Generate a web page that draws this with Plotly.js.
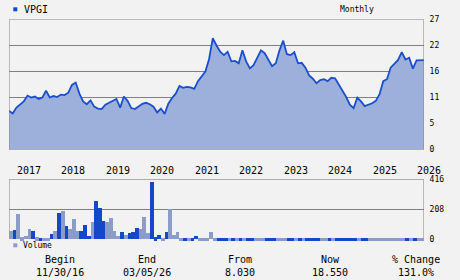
<!DOCTYPE html>
<html>
<head>
<meta charset="utf-8">
<script src="https://cdn.plot.ly/plotly-3.0.1.min.js"></script>
<style>html,body{margin:0;padding:0;background:#f2f2f2;}#chart{width:460px;height:280px;}</style>
</head>
<body>
<div id="chart"></div>
<script>
// Monthly closes, Nov 2016 .. Mar 2026 (index 0..112)
const price = [
  8.03, 7.5, 8.7, 9.3, 10.0, 11.2, 10.8, 11.0, 10.5, 10.8,
  12.2, 10.8, 11.1, 10.9, 11.4, 11.3, 11.8, 13.4, 13.9, 11.6,
  10.0, 9.4, 10.2, 8.9, 8.5, 8.4, 9.3, 9.7, 10.1, 10.5,
  8.7, 11.0, 10.1, 8.6, 8.4, 9.0, 9.5, 9.7, 9.4, 8.9,
  7.7, 8.5, 7.4, 9.5, 10.7, 11.6, 13.2, 12.8, 13.0, 12.9,
  12.6, 14.2, 15.3, 16.2, 18.8, 23.1, 21.6, 20.3, 19.6, 20.3,
  18.3, 18.4, 17.9, 20.6, 18.3, 16.85, 17.5, 19.0, 20.6, 20.0,
  18.6, 17.3, 17.9, 20.6, 22.6, 19.8, 19.6, 20.2, 17.9, 18.0,
  17.0, 15.4, 14.7, 13.75, 14.4, 14.6, 14.2, 14.9, 14.8, 13.5,
  12.35, 10.9, 9.3, 8.6, 10.75, 10.0, 9.0, 9.3, 9.6, 10.1,
  11.5, 14.2, 14.6, 17.0, 17.8, 18.6, 20.2, 18.7, 19.05, 16.8,
  18.5, 18.55, 18.55
];
// Monthly volume (thousands)
const volume = [
  56, 63, 174, 14, 21, 70, 56, 14, 7, 7,
  7, 35, 56, 181, 195, 91, 70, 139, 56, 56,
  98, 21, 118, 265, 216, 125, 118, 146, 56, 21,
  49, 28, 42, 49, 77, 70, 153, 42, 397, 14,
  28, 7, 49, 209, 28, 49, 7, 5, 5, 5,
  21, 5, 5, 5, 49, 5, 5, 5, 5, 5,
  5, 5, 5, 5, 5, 5, 5, 5, 5, 5,
  5, 5, 5, 5, 5, 5, 5, 5, 5, 5,
  5, 5, 5, 5, 5, 5, 5, 5, 5, 5,
  5, 5, 5, 5, 5, 5, 5, 5, 5, 5,
  5, 5, 5, 5, 5, 5, 5, 5, 5, 5,
  5, 5, 5
];
// 1 = down month (dark bar), 0 = up month (light bar)
const downMonth = [
  0,1,0,0,0,0,1,0,1,0,
  0,1,0,1,0,1,0,0,0,1,
  1,1,0,1,1,1,0,0,0,0,
  1,0,1,1,1,0,0,0,1,1,
  1,0,1,0,0,0,0,1,0,1,
  1,0,0,0,0,0,1,1,1,0,
  1,0,1,0,1,1,0,0,0,1,
  1,1,0,0,0,1,1,0,1,0,
  1,1,1,1,0,0,1,0,1,1,
  1,1,1,1,0,1,1,0,0,0,
  0,0,0,0,0,0,0,1,0,1,
  0,0,0
];
const yearLabels = ['2017','2018','2019','2020','2021','2022','2023','2024','2025','2026'];
const priceTicks = [0, 5.4, 10.8, 16.2, 21.6, 27];
const priceTickText = ['0','5','11','16','22','27'];
const volTicks = [0, 208, 416];
const ticker = 'VPGI';
const footerHeads = ['Begin','End','From','Now','% Change'];
const footerVals = ['11/30/16','03/05/26','8.030','18.550','131.0%'];

const idx = price.map((_, i) => i);
const yearIdx = yearLabels.map((y) => (parseInt(y) - 2016) * 12 - 10);

const DARK = '#1448c8';
const LIGHT = '#8a9cc8';
const FONT = 'DejaVu Sans Mono, monospace';
const W = 460, H = 280;
const px = (x) => x / W;
const py = (y) => 1 - y / H;

const traces = [
  {
    x: idx, y: price, type: 'scatter', mode: 'lines',
    line: {color: '#1a4fcc', width: 1.8},
    fill: 'tozeroy', fillcolor: '#9db0dc',
    xaxis: 'x', yaxis: 'y', hoverinfo: 'skip'
  },
  {
    x: idx, y: volume.map((v) => v < 15 ? v + 14 : v),
    base: volume.map((v) => v < 15 ? -14 : 0),
    type: 'bar', width: 1, offset: 0,
    marker: {color: downMonth.map((d) => d ? DARK : LIGHT), line: {width: 0}},
    xaxis: 'x2', yaxis: 'y2', hoverinfo: 'skip'
  }
];

const annotations = [];
annotations.push({xref:'paper', yref:'paper', x: px(22), y: py(9), xanchor:'left', yanchor:'middle',
  text: ticker, showarrow:false, font:{family:FONT, size:10, color:'#000'}});
annotations.push({xref:'paper', yref:'paper', x: px(357), y: py(9), xanchor:'center', yanchor:'middle',
  text: 'Monthly', showarrow:false, font:{family:FONT, size:8, color:'#000'}});
annotations.push({xref:'paper', yref:'paper', x: px(20.5), y: py(245.5), xanchor:'left', yanchor:'middle',
  text: 'Volume', showarrow:false, font:{family:FONT, size:8, color:'#000'}});
yearLabels.forEach((t, k) => {
  annotations.push({xref:'x2', yref:'paper', x: yearIdx[k], y: py(170), xanchor:'left', yanchor:'middle',
    xshift: -1.5, text: t, showarrow:false, font:{family:FONT, size:10, color:'#000'}});
});
const colX = [60, 147, 240, 330, 416];
footerHeads.forEach((t, k) => {
  annotations.push({xref:'paper', yref:'paper', x: px(colX[k]), y: py(259.5), xanchor:'center', yanchor:'middle',
    text: t, showarrow:false, font:{family:FONT, size:10, color:'#000'}});
  annotations.push({xref:'paper', yref:'paper', x: px(colX[k]), y: py(272.5), xanchor:'center', yanchor:'middle',
    text: footerVals[k], showarrow:false, font:{family:FONT, size:10, color:'#000'}});
});

const shapes = [
  {type:'rect', xref:'x', yref:'y', x0:0, x1:112, y0:0, y1:27, line:{color:'#808080', width:1}, layer:'above'},
  {type:'path', xref:'x2', yref:'y2', path:'M0,0 L0,416 L112,416 L112,0', line:{color:'#808080', width:1}, layer:'below'},
  {type:'rect', xref:'paper', yref:'paper', x0:px(13.3), x1:px(17.3), y0:py(11.3), y1:py(7.3), fillcolor:DARK, line:{width:0}},
  {type:'rect', xref:'paper', yref:'paper', x0:px(13.3), x1:px(17.3), y0:py(247.3), y1:py(243.3), fillcolor:LIGHT, line:{width:0}}
];

const axX = {
  domain: [px(9), px(424)], range: [0, 112],
  showticklabels: false, ticks: '', showgrid: false, zeroline: false, showline: false
};

const layout = {
  width: W, height: H,
  margin: {l:0, r:0, t:0, b:0, pad:0},
  paper_bgcolor: '#f2f2f2', plot_bgcolor: '#f2f2f2',
  showlegend: false,
  bargap: 0,
  xaxis: Object.assign({anchor: 'y'}, axX),
  xaxis2: Object.assign({anchor: 'y2'}, axX),
  yaxis: {
    domain: [py(149.5), py(19.5)], range: [0, 27], anchor: 'x', side: 'right',
    tickvals: priceTicks, ticktext: priceTickText,
    ticks: 'outside', ticklen: 3, tickcolor: 'rgba(0,0,0,0)',
    showgrid: true, gridcolor: '#808080', gridwidth: 1, zeroline: false, showline: false,
    tickfont: {family: FONT, size: 8, color: '#000'}
  },
  yaxis2: {
    domain: [py(241), py(179.3)], range: [-14, 416], anchor: 'x2', side: 'right',
    tickvals: volTicks, ticktext: volTicks.map(String),
    ticks: 'outside', ticklen: 3, tickcolor: 'rgba(0,0,0,0)',
    showgrid: true, gridcolor: '#808080', gridwidth: 1, zeroline: false, showline: false,
    tickfont: {family: FONT, size: 8, color: '#000'}
  },
  annotations: annotations,
  shapes: shapes
};

Plotly.newPlot('chart', traces, layout, {staticPlot: true, displayModeBar: false});
</script>
</body>
</html>
